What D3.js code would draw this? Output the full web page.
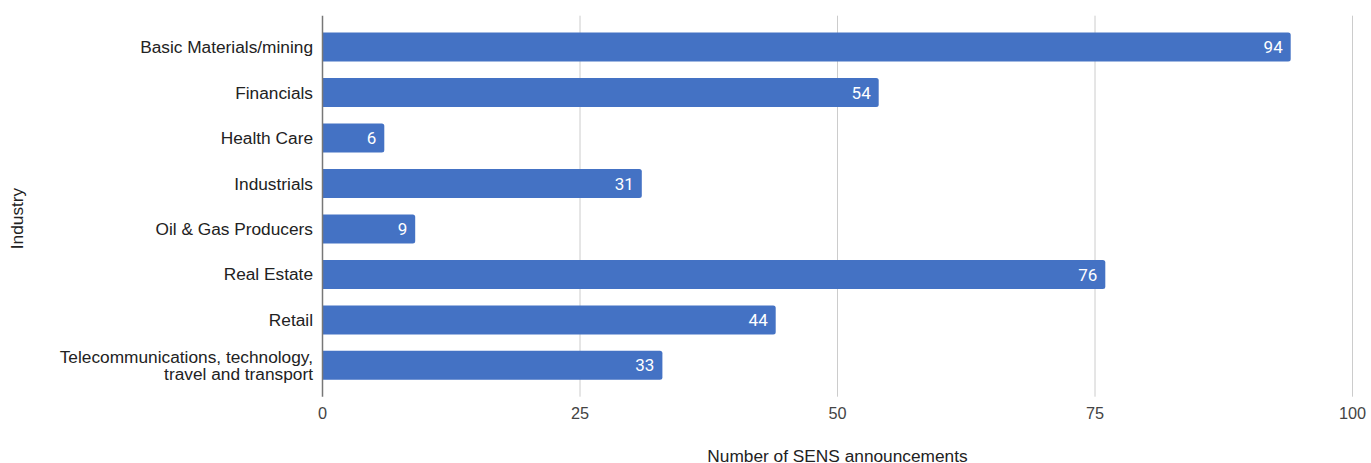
<!DOCTYPE html>
<html>
<head>
<meta charset="utf-8">
<script src="https://cdn.jsdelivr.net/npm/d3@7"></script>
<style>
  html, body { margin: 0; padding: 0; background: #fff; }
  svg { display: block; }
</style>
</head>
<body>
<svg id="chart" width="1371" height="463"></svg>
<script>
// Industry categories (multi-line labels split with "\n")
const industries = [
  "Basic Materials/mining",
  "Financials",
  "Health Care",
  "Industrials",
  "Oil & Gas Producers",
  "Real Estate",
  "Retail",
  "Telecommunications, technology,\ntravel and transport"
];
// Number of SENS announcements per industry
const announcements = [94, 54, 6, 31, 9, 76, 44, 33];
// X axis ticks
const xTicks = [0, 25, 50, 75, 100];

const svg = d3.select("#chart");
const margin = { left: 322.5, right: 18.5, top: 15.7, bottom: 66.3 };
const W = 1371, H = 463;
const font = "'Liberation Sans', Arial, sans-serif";
const labelSize = 17.3;

const x = d3.scaleLinear()
  .domain([0, 100])
  .range([margin.left, W - margin.right]);

const y = d3.scaleBand()
  .domain(industries)
  .range([margin.top, H - margin.bottom])
  .paddingInner(0.362)
  .paddingOuter(0.37);

// Vertical gridlines
svg.append("g")
  .selectAll("line")
  .data(xTicks.filter(d => d !== 0))
  .join("line")
  .attr("x1", d => x(d)).attr("x2", d => x(d))
  .attr("y1", margin.top).attr("y2", H - margin.bottom)
  .attr("stroke", "#cccccc")
  .attr("stroke-width", 1);

// Tick labels
svg.append("g")
  .selectAll("text")
  .data(xTicks)
  .join("text")
  .attr("x", d => x(d))
  .attr("y", 419)
  .attr("text-anchor", "middle")
  .attr("font-family", font)
  .attr("font-size", 16.3)
  .attr("fill", "#444")
  .text(d => d);

// Bars: square on the left, slightly rounded on the right
const r = 2.5;
function barPath(d, i) {
  const x0 = x(0), x1 = x(announcements[i]);
  const y0 = y(d), y1 = y(d) + y.bandwidth();
  return `M${x0},${y0} H${x1 - r} Q${x1},${y0} ${x1},${y0 + r} V${y1 - r} Q${x1},${y1} ${x1 - r},${y1} H${x0} Z`;
}
svg.append("g")
  .selectAll("path")
  .data(industries)
  .join("path")
  .attr("d", barPath)
  .attr("fill", "#4472c4");

// Value labels inside bar ends
svg.append("g")
  .selectAll("text")
  .data(industries)
  .join("text")
  .attr("x", (d, i) => x(announcements[i]) - 8)
  .attr("y", d => y(d) + y.bandwidth() / 2)
  .attr("dy", "0.36em")
  .attr("text-anchor", "end")
  .attr("font-family", "Roboto, 'Open Sans', sans-serif")
  .attr("font-size", 17)
  .attr("fill", "#ffffff")
  .text((d, i) => announcements[i]);

// Zero baseline
svg.append("line")
  .attr("x1", x(0)).attr("x2", x(0))
  .attr("y1", margin.top).attr("y2", H - margin.bottom)
  .attr("stroke", "#777")
  .attr("stroke-width", 1.5);

// Category labels
const labels = svg.append("g")
  .selectAll("text")
  .data(industries)
  .join("text")
  .attr("text-anchor", "end")
  .attr("font-family", font)
  .attr("font-size", labelSize)
  .attr("fill", "#222");
labels.each(function(d) {
  const lines = d.split("\n");
  const cy = y(d) + y.bandwidth() / 2;
  const lh = 16.7;
  const t = d3.select(this);
  lines.forEach((ln, k) => {
    t.append("tspan")
      .attr("x", 313)
      .attr("y", cy + (k - (lines.length - 1) / 2) * lh)
      .attr("dy", "0.35em")
      .text(ln);
  });
});

// Axis titles
svg.append("text")
  .attr("x", (x(0) + x(100)) / 2)
  .attr("y", 462)
  .attr("text-anchor", "middle")
  .attr("font-family", font)
  .attr("font-size", labelSize)
  .attr("fill", "#222")
  .text("Number of SENS announcements");

svg.append("text")
  .attr("transform", "translate(22.5, 218.5) rotate(-90)")
  .attr("text-anchor", "middle")
  .attr("font-family", font)
  .attr("font-size", labelSize)
  .attr("fill", "#222")
  .text("Industry");
</script>
</body>
</html>
